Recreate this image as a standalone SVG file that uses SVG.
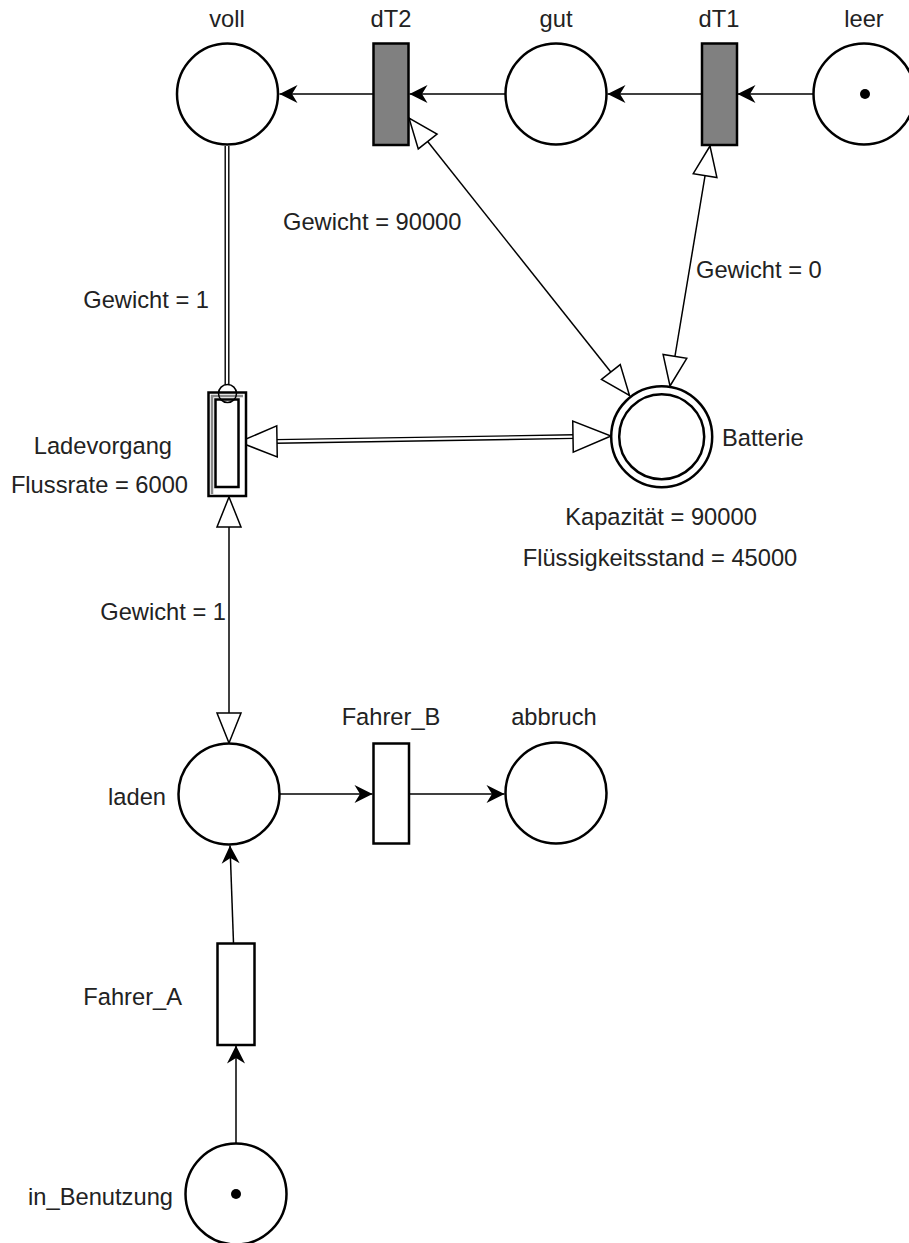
<svg xmlns="http://www.w3.org/2000/svg" width="909" height="1243" viewBox="0 0 909 1243">
<style>
.pl{fill:#fff;stroke:#000;stroke-width:2.5}
.tg{fill:#808080;stroke:#000;stroke-width:2.5}
.tw{fill:#fff;stroke:#000;stroke-width:2.5}
.tk{fill:#000}
.lb{font-family:"Liberation Sans",Arial,sans-serif;font-size:23.7px;fill:#222}
.m{text-anchor:middle}
.e{text-anchor:end}
.ln{fill:none;stroke:#000;stroke-width:1.5}
.dbo{fill:none;stroke:#000;stroke-width:5}
.dbi{fill:none;stroke:#fff;stroke-width:2.2}
.hb{fill:#fff;stroke:#000;stroke-width:1.5}
</style>
<defs>
<marker id="arr" viewBox="-20 -11 22 22" refX="0" refY="0" markerWidth="22" markerHeight="22" markerUnits="userSpaceOnUse" orient="auto" overflow="visible">
<path d="M0,0 L-18,-9 L-12.5,0 L-18,9 Z" fill="#000"/>
</marker>
<marker id="hol" viewBox="-32 -14 34 28" refX="0" refY="0" markerWidth="34" markerHeight="28" markerUnits="userSpaceOnUse" orient="auto-start-reverse" overflow="visible">
<path d="M0,0 L-30,-12 L-30,12 Z" fill="#fff" stroke="#000" stroke-width="1.5"/>
</marker>
</defs>
<rect width="909" height="1243" fill="#fff"/>

<g id="connectors">
<path class="ln" d="M373,94 L279.5,94" marker-end="url(#arr)"/>
<path class="ln" d="M505,94 L409.5,94" marker-end="url(#arr)"/>
<path class="ln" d="M702,94 L607.5,94" marker-end="url(#arr)"/>
<path class="ln" d="M813,94 L737.5,94" marker-end="url(#arr)"/>
<path class="ln" d="M409,118 L629.5,395.5" marker-start="url(#hol)" marker-end="url(#hol)"/>
<path class="ln" d="M710,146 L670,386" marker-start="url(#hol)" marker-end="url(#hol)"/>
<path class="ln" d="M229,497 L229,743" marker-start="url(#hol)" marker-end="url(#hol)"/>
<path class="ln" d="M279,794 L372.5,794" marker-end="url(#arr)"/>
<path class="ln" d="M409,794 L504.5,794" marker-end="url(#arr)"/>
<path class="ln" d="M233.5,943 L230,845.5" marker-end="url(#arr)"/>
<path class="ln" d="M236,1143 L236,1045.5" marker-end="url(#arr)"/>
<path class="dbo" d="M227,146 L227,385"/>
<path class="dbi" d="M227,146 L227,385"/>
<path class="dbo" d="M276,441.4 L574,436.6"/>
<path class="dbi" d="M276,441.4 L574,436.6"/>
<polygon class="hb" points="239,442 277.25,456.89 276.75,425.89"/>
<polygon class="hb" points="611,436 573.25,452.11 572.75,421.11"/>
</g>

<g id="voll">
<circle class="pl" cx="227.5" cy="94" r="50.5"/>
<text class="lb m" x="227" y="27">voll</text>
</g>
<g id="dT2">
<rect class="tg" x="373.5" y="43.5" width="35" height="101.5"/>
<text class="lb m" x="391" y="27">dT2</text>
</g>
<g id="gut">
<circle class="pl" cx="556" cy="94" r="50.5"/>
<text class="lb m" x="556" y="27">gut</text>
</g>
<g id="dT1">
<rect class="tg" x="702" y="43.5" width="35" height="101.5"/>
<text class="lb m" x="719" y="27">dT1</text>
</g>
<g id="leer">
<circle class="pl" cx="864" cy="94" r="50.5"/>
<circle class="tk" cx="865" cy="94" r="5"/>
<text class="lb m" x="864" y="27">leer</text>
</g>

<g id="Batterie">
<circle class="pl" cx="661.7" cy="436.7" r="50.5"/>
<circle class="pl" cx="661.7" cy="436.7" r="42.5"/>
<text class="lb" x="722" y="446">Batterie</text>
<text class="lb m" x="661" y="525">Kapazität = 90000</text>
<text class="lb m" x="660" y="566">Flüssigkeitsstand = 45000</text>
</g>

<g id="Ladevorgang">
<rect x="208.5" y="392.5" width="37.5" height="103.5" fill="#fff" stroke="#000" stroke-width="2.5"/>
<path d="M212,494 L212,396 L243,396" fill="none" stroke="#888" stroke-width="2.5"/>
<rect x="215.5" y="399.5" width="23" height="87.5" fill="#fff" stroke="#000" stroke-width="2.5"/>
<circle cx="227.5" cy="393.5" r="9" fill="none" stroke="#000" stroke-width="1.5"/>
<text class="lb e" x="172" y="454">Ladevorgang</text>
<text class="lb e" x="188" y="493">Flussrate = 6000</text>
</g>

<g id="laden">
<circle class="pl" cx="229" cy="794" r="50.5"/>
<text class="lb e" x="166" y="805">laden</text>
</g>
<g id="Fahrer_B">
<rect class="tw" x="373.5" y="743.5" width="35.5" height="100"/>
<text class="lb m" x="391" y="725">Fahrer_B</text>
</g>
<g id="abbruch">
<circle class="pl" cx="556" cy="793" r="50.5"/>
<text class="lb m" x="554" y="725">abbruch</text>
</g>
<g id="Fahrer_A">
<rect class="tw" x="217.5" y="943.5" width="37" height="101.5"/>
<text class="lb e" x="182" y="1005">Fahrer_A</text>
</g>
<g id="in_Benutzung">
<circle class="pl" cx="236" cy="1194" r="50.5"/>
<circle class="tk" cx="236" cy="1194" r="5"/>
<text class="lb e" x="173" y="1205">in_Benutzung</text>
</g>

<g id="labels">
<text class="lb" x="283" y="230">Gewicht = 90000</text>
<text class="lb" x="696" y="278">Gewicht = 0</text>
<text class="lb e" x="209" y="308">Gewicht = 1</text>
<text class="lb e" x="226" y="620">Gewicht = 1</text>
</g>
</svg>
